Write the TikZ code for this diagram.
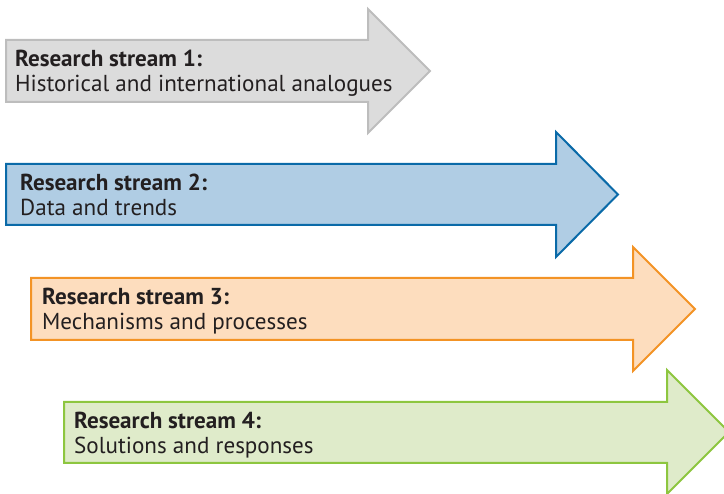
\documentclass[tikz,border=0pt]{standalone}
\usepackage{fontspec}
\setmainfont{PT Sans}
\definecolor{txt}{HTML}{231F20}
\definecolor{greyfill}{HTML}{DCDCDC}
\definecolor{greyline}{HTML}{BDBDBD}
\definecolor{bluefill}{HTML}{B0CDE4}
\definecolor{blueline}{HTML}{0A6AA8}
\definecolor{orangefill}{HTML}{FDDDBE}
\definecolor{orangeline}{HTML}{F39325}
\definecolor{greenfill}{HTML}{DFEBCA}
\definecolor{greenline}{HTML}{8DC63F}
\tikzset{
  arrowshape/.style={line width=2pt, line join=miter},
  lbl/.style={anchor=base west, inner sep=0pt, text=txt, font=\fontsize{23.1}{26}\selectfont},
}
\begin{document}
\begin{tikzpicture}[x=1pt,y=-1pt]
\useasboundingbox (0,0) rectangle (724,494);
\clip (0,0) rectangle (724,494);
% arrow 1
\draw[arrowshape, fill=greyfill, draw=greyline]
  (6,40) -- (368,40) -- (368,9) -- (430,71) -- (368,133) -- (368,102) -- (6,102) -- cycle;
% arrow 2
\draw[arrowshape, fill=bluefill, draw=blueline]
  (6,164) -- (556,164) -- (556,132) -- (618,194.5) -- (556,257) -- (556,225) -- (6,225) -- cycle;
% arrow 3
\draw[arrowshape, fill=orangefill, draw=orangeline]
  (31,278) -- (633,278) -- (633,247) -- (695,309) -- (633,371) -- (633,340) -- (31,340) -- cycle;
% arrow 4
\draw[arrowshape, fill=greenfill, draw=greenline]
  (64,402) -- (667,402) -- (667,370) -- (729,432) -- (667,494) -- (667,463) -- (64,463) -- cycle;
\node[lbl] (t1a) at (15,67) {\bfseries Research stream 1:};
\node[lbl] (t1b) at (15,92) {Historical and international analogues};
\node[lbl] (t2a) at (20,191) {\bfseries Research stream 2:};
\node[lbl] (t2b) at (20,216) {Data and trends};
\node[lbl] (t3a) at (42,305) {\bfseries Research stream 3:};
\node[lbl] (t3b) at (42,330) {Mechanisms and processes};
\node[lbl] (t4a) at (74,429) {\bfseries Research stream 4:};
\node[lbl] (t4b) at (74,454) {Solutions and responses};
\end{tikzpicture}
\end{document}
